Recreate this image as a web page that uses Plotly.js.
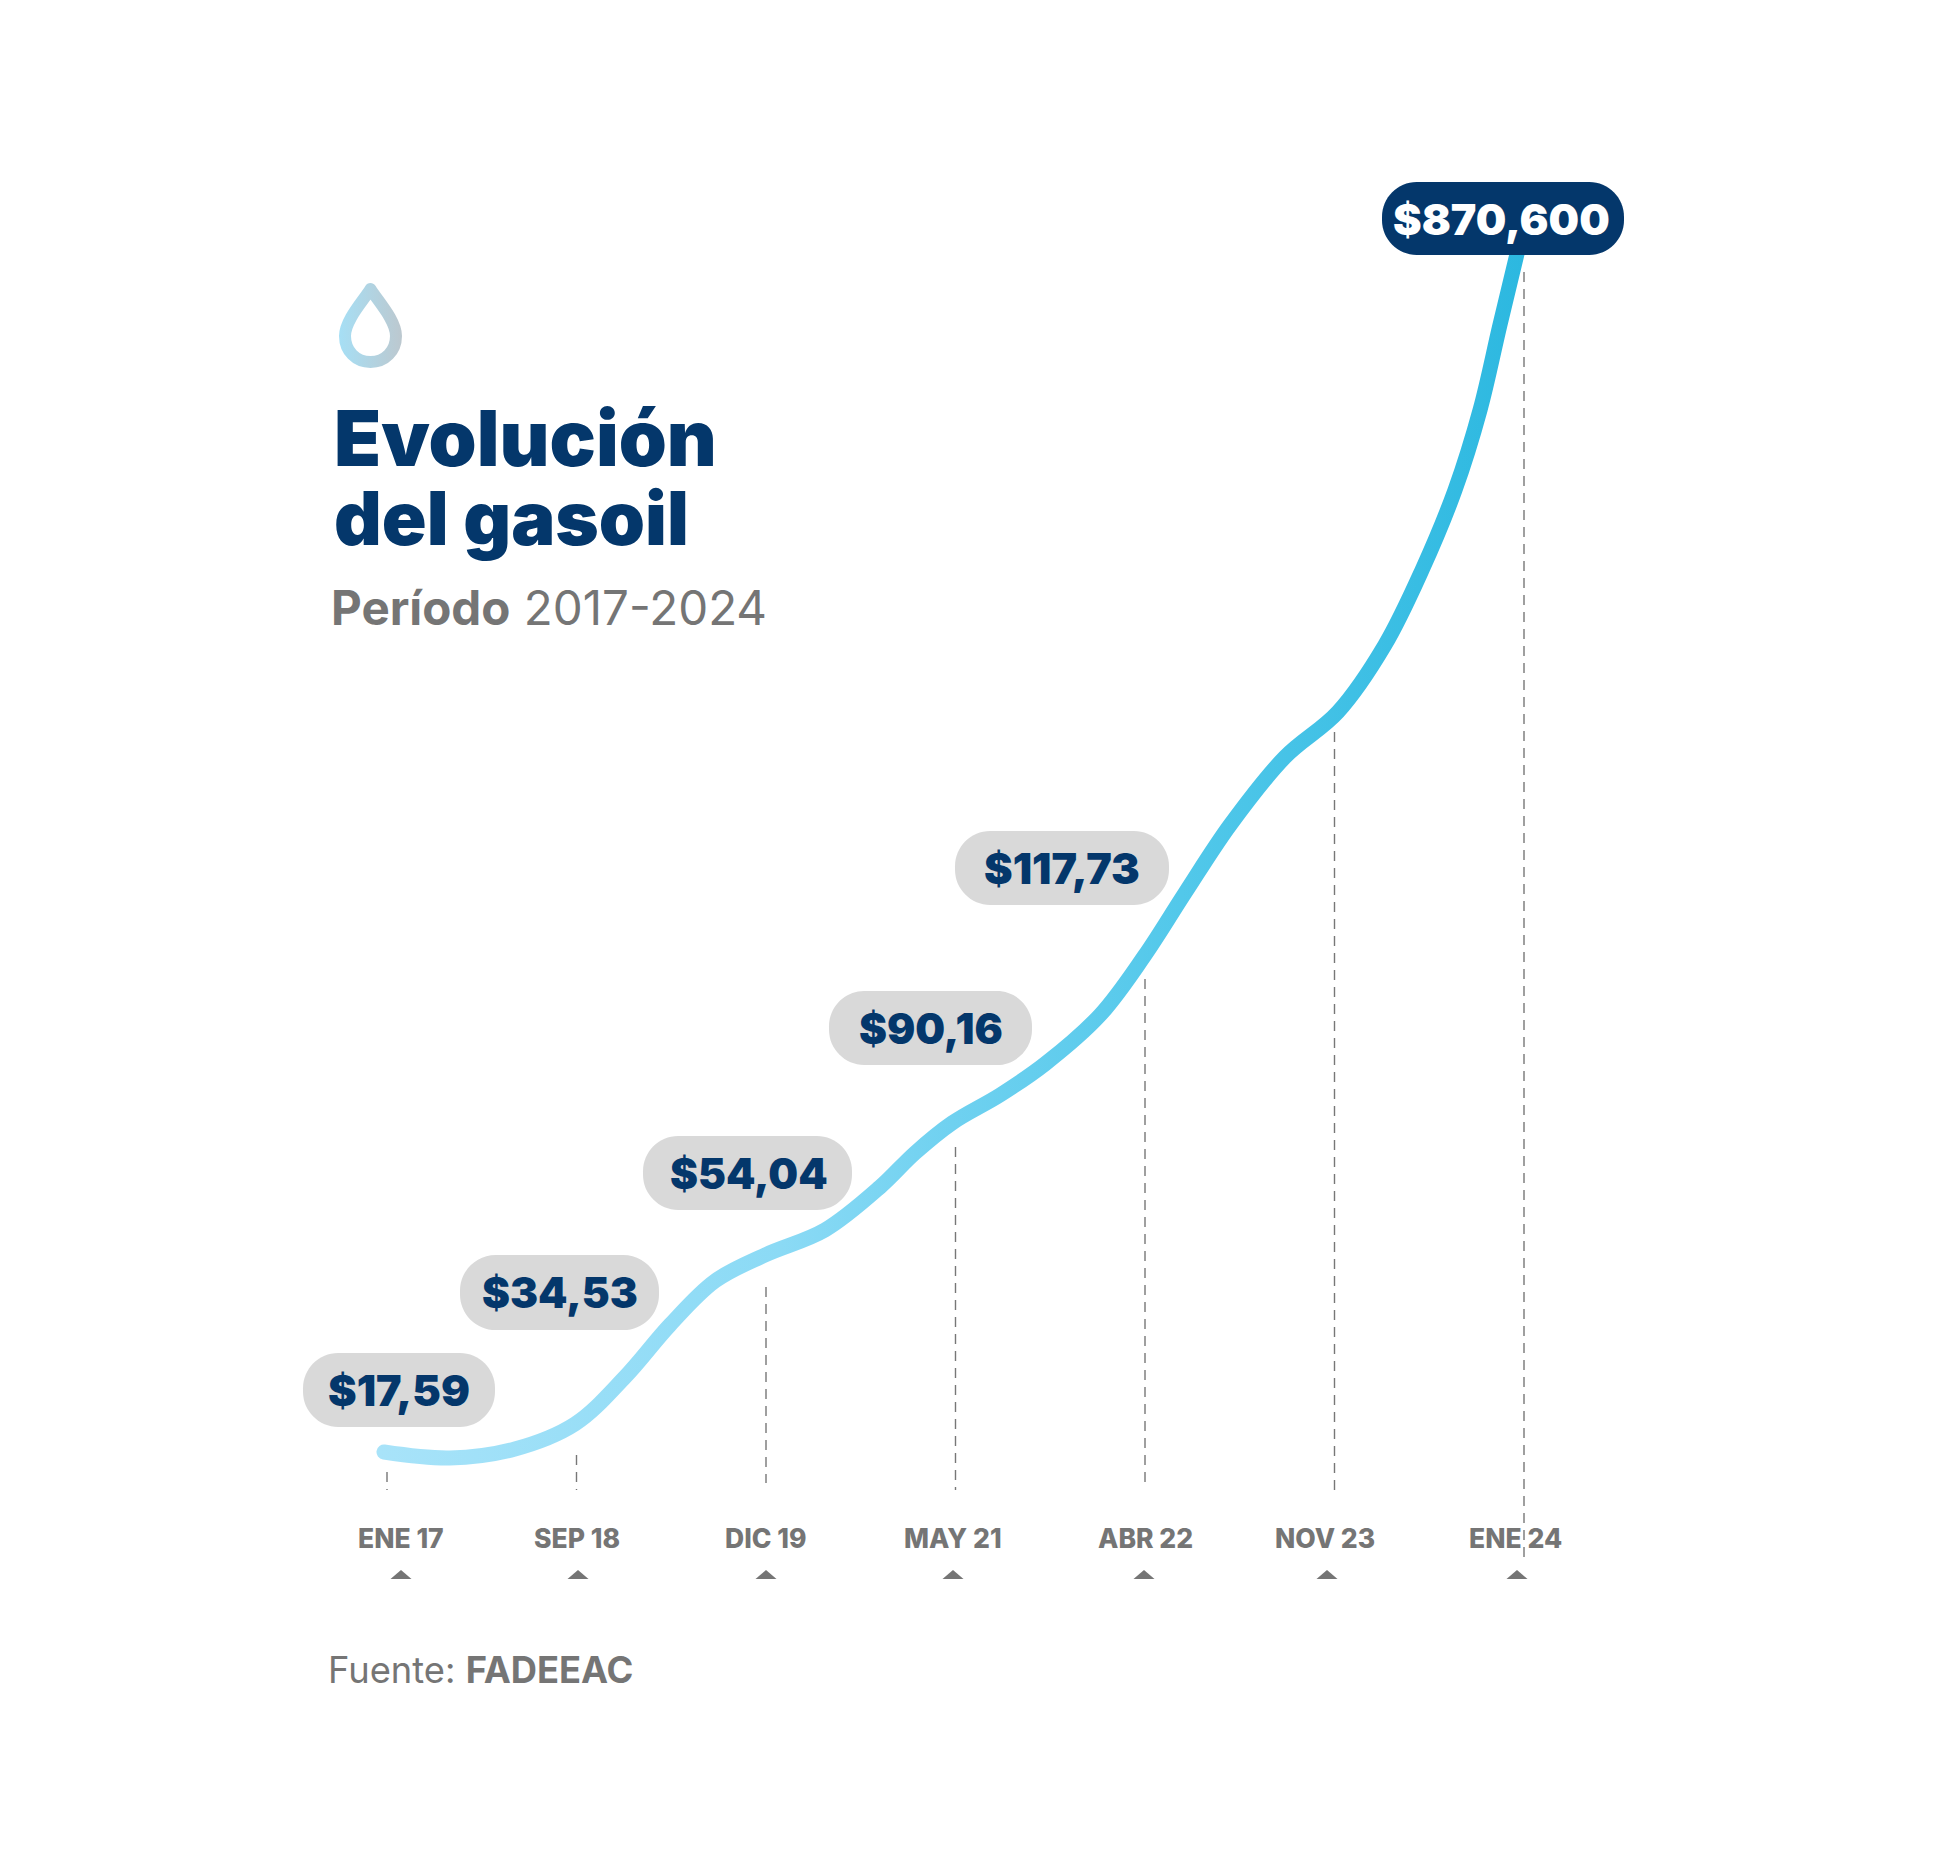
<!DOCTYPE html>
<html><head><meta charset="utf-8">
<script src="https://cdn.plot.ly/plotly-3.0.1.min.js"></script>
<style>html,body{margin:0;padding:0;background:#fff}</style>
</head><body><div id="chart" style="width:1938px;height:1856px"></div>
<script>
// DATA
const categories = ["ENE 17","SEP 18","DIC 19","MAY 21","ABR 22","NOV 23","ENE 24"];
const priceLabels = ["$17,59","$34,53","$54,04","$90,16","$117,73","$870,600"];
const curveX = [-0.016,0.332,0.675,0.992,1.256,1.493,1.731,1.995,2.311,2.602,2.786,2.982,3.235,3.472,3.763,4.000,4.211,4.449,4.739,5.018,5.266,5.462,5.636,5.768,5.873,5.968];
const curveY = [38,32,41,66,113,165,209,235,260,303,337,367,395,426,475,535,597,665,733,778,845,920,1000,1080,1165,1240];
const dropIndex = [0,1,2,3,4,5,6];
const dropTop = [18,35,203,343,511,758,1218];
const dropBottom = [0,0,7,0,6,0,-69];

// LAYOUT (pixel geometry of the page)
const W=1938,H=1856,X0=387,UX=189.5,Y0=1490;
const px=p=>p/W, py=p=>1-p/H;
const pillBoxes=[[303,495,1353,1427],[460,659,1255,1330],[643,852,1136,1210],[829,1032,991,1065],[955,1169,831,905],[1382,1624,182,255]];
const pillSizes=[43,42,42,42,43,43];
const pillShift=[0,0,1,0,0,-2];
const tickCenters=[401,577,765,953,1145,1325,1515];
const triCenters=[401,578,766,953,1144,1327,1517];
const NAVY='#04376b', GREY='#757575', PILL='#d9d9d9';
const FONT='Inter, "Noto Sans", sans-serif';

function pillPath(b){
  const [l,r,t,bt]=b, R=(bt-t)/2*0.95, k=R*0.45;
  const c=(x,y)=>px(x)+','+py(y);
  return 'M'+c(l+R,t)+' L'+c(r-R,t)+' C'+c(r-k,t)+' '+c(r,t+k)+' '+c(r,t+R)+' L'+c(r,bt-R)+' C'+c(r,bt-k)+' '+c(r-k,bt)+' '+c(r-R,bt)+
    ' L'+c(l+R,bt)+' C'+c(l+k,bt)+' '+c(l,bt-k)+' '+c(l,bt-R)+' L'+c(l,t+R)+' C'+c(l,t+k)+' '+c(l+k,t)+' '+c(l+R,t)+' Z';
}
const shapes=[];
pillBoxes.forEach((b,i)=>shapes.push({type:'path',xref:'paper',yref:'paper',path:pillPath(b),fillcolor:i===5?NAVY:PILL,line:{width:0},layer:'above'}));
triCenters.forEach(c=>shapes.push({type:'path',xref:'paper',yref:'paper',
  path:'M'+px(c-10.5)+','+py(1579)+' L'+px(c)+','+py(1570)+' L'+px(c+10.5)+','+py(1579)+' Z',fillcolor:GREY,line:{width:0},layer:'above'}));
const c=(x,y)=>px(x)+','+py(y);
const dropShapeIndex=shapes.length;
shapes.push({type:'path',xref:'paper',yref:'paper',
  path:'M'+c(370.5,289)+' C'+c(364,300)+' '+c(345,320)+' '+c(345,336)+' C'+c(345,351)+' '+c(356,362)+' '+c(370.5,362)+' C'+c(385,362)+' '+c(396,351)+' '+c(396,336)+' C'+c(396,320)+' '+c(377,300)+' '+c(370.5,289)+' Z',
  line:{color:'#b5d4e2',width:12},fillcolor:'rgba(0,0,0,0)',layer:'above'});

const ann=[];
function txt(t,x,y,size,color,weight,anchor){ann.push({text:t,xref:'paper',yref:'paper',x:px(x),y:py(y),xanchor:anchor||'center',yanchor:'middle',showarrow:false,align:anchor||'center',font:{family:FONT,size:size,color:color,weight:weight||400}});}
priceLabels.forEach((t,i)=>{const b=pillBoxes[i];txt(t,(b[0]+b[1])/2+pillShift[i],(b[2]+b[3])/2,pillSizes[i],i===5?'#ffffff':NAVY,900);});
categories.forEach((t,i)=>txt(t,tickCenters[i],1538,26.5,GREY,800));
txt('Evolución',332,438,77,NAVY,900,'left');
txt('del gasoil',332,518,74,NAVY,900,'left');
txt('<b>Período</b> 2017-2024',329,607,47.5,GREY,400,'left');
txt('Fuente: <b>FADEEAC</b>',326,1670,36.3,GREY,400,'left');

const dx=[],dy=[];
dropIndex.forEach((v,i)=>{dx.push(v,v,null);dy.push(dropTop[i],dropBottom[i],null);});
const traces=[
 {x:dx,y:dy,mode:'lines',line:{color:'#777777',width:1.4,dash:'10px,7px'},hoverinfo:'skip',showlegend:false},
 {x:curveX,y:curveY,mode:'lines',line:{color:'#5fcdee',width:15,shape:'spline',smoothing:1},hoverinfo:'skip',showlegend:false}
];
const layout={width:W,height:H,margin:{l:0,r:0,t:0,b:0},paper_bgcolor:'#fff',plot_bgcolor:'#fff',showlegend:false,
 xaxis:{range:[-X0/UX,(W-X0)/UX],visible:false,fixedrange:true},
 yaxis:{range:[Y0-H,Y0],visible:false,fixedrange:true},
 shapes:shapes,annotations:ann};
Plotly.newPlot('chart',traces,layout,{displayModeBar:false,staticPlot:true}).then(gd=>{
  const svg=gd.querySelector('svg.main-svg');
  const NS='http://www.w3.org/2000/svg';
  const defs=svg.querySelector('defs')||svg.insertBefore(document.createElementNS(NS,'defs'),svg.firstChild);
  function grad(id,stops,x1,x2){
    const g=document.createElementNS(NS,'linearGradient');g.setAttribute('id',id);
    g.setAttribute('gradientUnits','userSpaceOnUse');g.setAttribute('x1',x1);g.setAttribute('x2',x2);g.setAttribute('y1',0);g.setAttribute('y2',0);
    stops.forEach(s=>{const e=document.createElementNS(NS,'stop');e.setAttribute('offset',s[0]);e.setAttribute('stop-color',s[1]);g.appendChild(e);});
    defs.appendChild(g);
  }
  grad('curveGrad',[[0,'#a8e3f9'],[0.35,'#8bdaf5'],[0.5,'#6fd1f0'],[0.7,'#52c8ea'],[1,'#2cb8e0']],380,1525);
  grad('dropGrad',[[0,'#a6dff5'],[1,'#bcc8cf']],339,402);
  const lines=gd.querySelectorAll('.scatterlayer .js-line');
  const main=lines[lines.length-1];
  main.style.stroke='url(#curveGrad)';main.style.strokeLinecap='round';main.style.strokeLinejoin='round';
  const sh=gd.querySelectorAll('.shapelayer path');
  const d=sh[dropShapeIndex];
  if(d){d.style.stroke='url(#dropGrad)';d.style.strokeLinejoin='round';}
});
</script></body></html>
